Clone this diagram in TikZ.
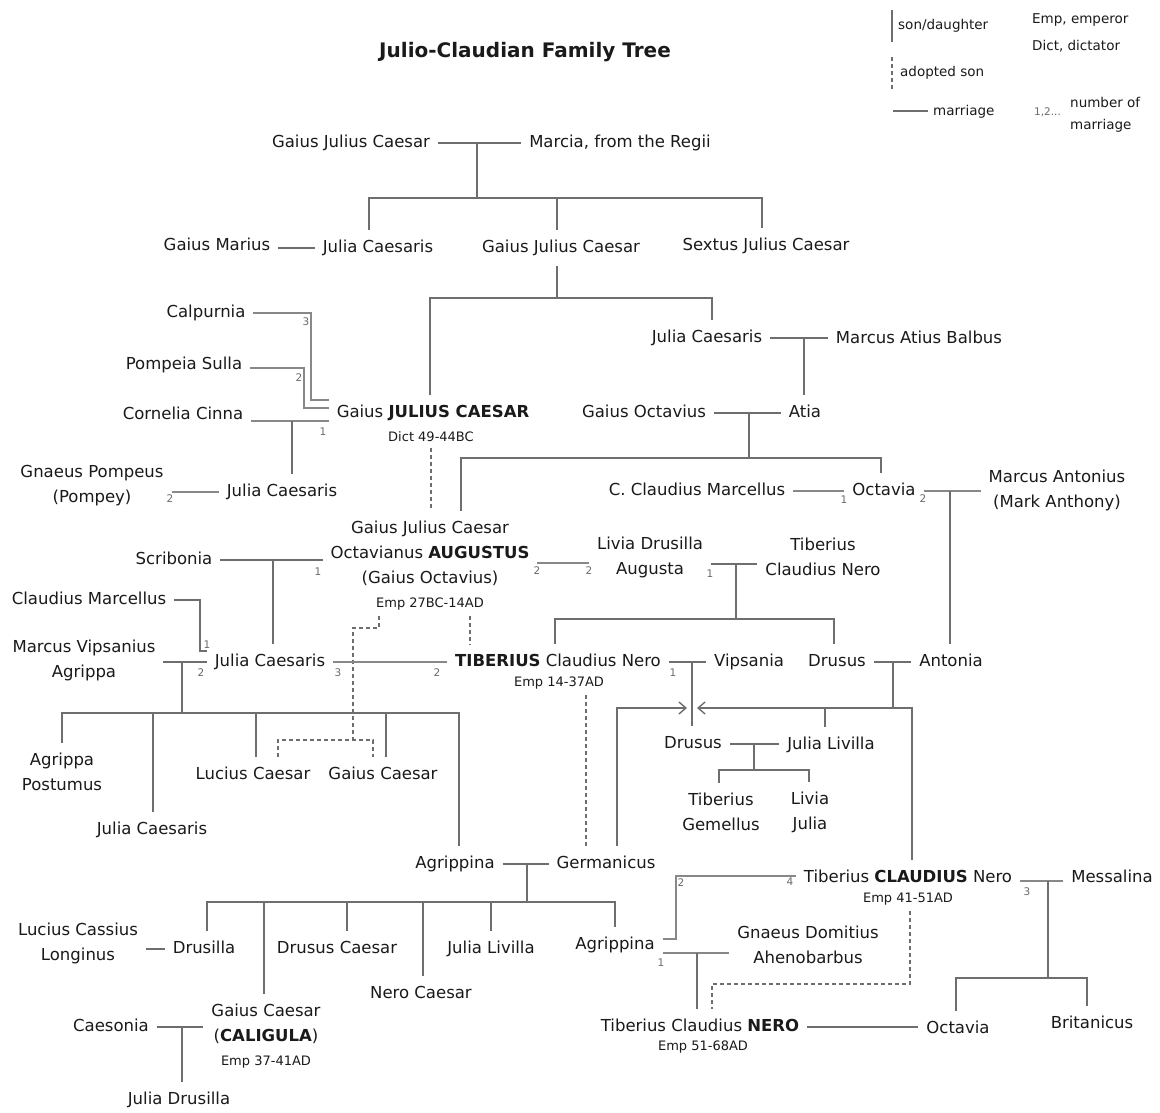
\documentclass[tikz,border=0pt]{standalone}
\usepackage{fontspec}
\setmainfont{DejaVu Sans}
\usetikzlibrary{arrows.meta}
\definecolor{txt}{HTML}{1A1A1A}
\definecolor{lin}{HTML}{6E6E6E}
\definecolor{mln}{HTML}{888888}
\definecolor{numc}{HTML}{6A6A6A}
\begin{document}
\begin{tikzpicture}[x=1pt,y=-1pt,
 nm/.style={font=\fontsize{16.5}{25}\selectfont, text=txt, inner sep=0pt, outer xsep=8pt, outer ysep=10pt, text height=12pt, text depth=3.5pt},
 nm2/.style={font=\fontsize{16.5}{25}\selectfont, text=txt, inner sep=0pt, outer xsep=8pt, outer ysep=10pt, align=center},
 sm/.style={font=\fontsize{13}{15}\selectfont, text=txt, inner sep=0pt, outer ysep=6pt},
 mnum/.style={font=\fontsize{10.5}{12}\selectfont, text=numc, inner sep=0pt},
 leg/.style={font=\fontsize{13.5}{22}\selectfont, text=txt, inner sep=0pt, anchor=west, align=left},
 kin/.style={draw=lin, line width=1.4pt},
 wed/.style={draw=mln, line width=2.4pt},
 adp/.style={draw=lin, line width=1.2pt, dash pattern=on 4pt off 3pt},
 chev/.style={-{Straight Barb[length=7pt,width=12pt]}},
]
\fill[white] (0,0) rectangle (1160,1113);
\useasboundingbox (0,0) rectangle (1160,1113);

% title
\node[font=\fontsize{20}{24}\selectfont\bfseries, text=txt] (title) at (525,52) {Julio-Claudian Family Tree};

% legend
\coordinate (lg1a) at (892,10); \coordinate (lg1b) at (892,42);
\draw[kin, line width=1.2pt] (lg1a) -- (lg1b);
\node[leg] (lgson) at (898,26) {son/daughter};
\coordinate (lg2a) at (892,57); \coordinate (lg2b) at (892,90);
\draw[adp] (lg2a) -- (lg2b);
\node[leg] (lgad) at (900,73) {adopted son};
\node[leg] (lgmar) at (933,112) {marriage};
\coordinate (lg3a) at (893,111);
\draw[kin, line width=1.2pt, shorten >=5pt] (lg3a) -- (lg3a -| lgmar.west);
\node[leg] (lgemp) at (1032,20) {Emp, emperor};
\node[leg] (lgdict) at (1032,46) {Dict, dictator};
\node[mnum, anchor=west] (lgnum) at (1034,112) {1,2...};
\node[leg] (lgnof) at (1070,115) {number of\\marriage};

% ---------- nodes ----------
\node[nm] (gjc0) at (351,143) {Gaius Julius Caesar};
\node[nm] (marcia) at (620,143) {Marcia, from the Regii};
\node[nm] (marius) at (217,246) {Gaius Marius};
\node[nm] (julia1) at (378,248) {Julia Caesaris};
\node[nm] (gjc1) at (561,248) {Gaius Julius Caesar};
\node[nm] (sextus) at (766,246) {Sextus Julius Caesar};
\node[nm] (julia2) at (707,338) {Julia Caesaris};
\node[nm] (balbus) at (919,339) {Marcus Atius Balbus};
\node[nm] (goct) at (644,413) {Gaius Octavius};
\node[nm] (atia) at (805,413) {Atia};
\node[nm] (calp) at (206,313) {Calpurnia};
\node[nm] (pomp) at (184,365) {Pompeia Sulla};
\node[nm] (corn) at (183,415) {Cornelia Cinna};
\node[nm] (caesar) at (433,413) {Gaius \textbf{JULIUS CAESAR}};
\node[sm] (caesarsub) at (431,437) {Dict 49-44BC};
\node[nm2] (pompey) at (92,486) {Gnaeus Pompeus\\(Pompey)};
\node[nm] (julia3) at (282,492) {Julia Caesaris};
\node[nm] (marcel) at (697,491) {C. Claudius Marcellus};
\node[nm] (octavia) at (884,491) {Octavia};
\node[nm2] (antony) at (1057,490) {Marcus Antonius\\(Mark Anthony)};
\node[nm2] (aug) at (430,553) {Gaius Julius Caesar\\Octavianus \textbf{AUGUSTUS}\\(Gaius Octavius)};
\node[sm] (augsub) at (430,604) {Emp 27BC-14AD};
\node[nm] (scrib) at (174,560) {Scribonia};
\node[nm2] (livia) at (650,557) {Livia Drusilla\\Augusta};
\node[nm2] (tcn) at (823,557) {Tiberius\\Claudius Nero};
\node[nm] (cmarc) at (89,600) {Claudius Marcellus};
\node[nm2] (agrippa) at (84,660) {Marcus Vipsanius\\Agrippa};
\node[nm] (julia4) at (270,662) {Julia Caesaris};
\node[nm] (tib) at (558,662) {\textbf{TIBERIUS} Claudius Nero};
\node[sm] (tibsub) at (559,683) {Emp 14-37AD};
\node[nm] (vips) at (749,662) {Vipsania};
\node[nm] (drusus1) at (837,662) {Drusus};
\node[nm] (antonia) at (951,662) {Antonia};
\node[nm2] (postumus) at (62,772) {Agrippa\\Postumus};
\node[nm] (julia5) at (152,830) {Julia Caesaris};
\node[nm] (lucius) at (253,775) {Lucius Caesar};
\node[nm] (gaius) at (383,775) {Gaius Caesar};
\node[nm] (drusus2) at (693,744) {Drusus};
\node[nm] (livilla1) at (831,745) {Julia Livilla};
\node[nm2] (gemellus) at (721,812) {Tiberius\\Gemellus};
\node[nm2] (liviaj) at (810,812) {Livia\\Julia};
\node[nm] (agr1) at (455,864) {Agrippina};
\node[nm] (germ) at (606,864) {Germanicus};
\node[nm2] (cassius) at (78,943) {Lucius Cassius\\Longinus};
\node[nm] (drusilla) at (204,949) {Drusilla};
\node[nm] (drcaes) at (337,949) {Drusus Caesar};
\node[nm] (nerocaes) at (421,994) {Nero Caesar};
\node[nm] (livilla2) at (491,949) {Julia Livilla};
\node[nm] (agr2) at (615,945) {Agrippina};
\node[nm] (claud) at (908,878) {Tiberius \textbf{CLAUDIUS} Nero};
\node[sm] (claudsub) at (908,899) {Emp 41-51AD};
\node[nm] (messa) at (1112,878) {Messalina};
\node[nm2] (ahen) at (808,945) {Gnaeus Domitius\\Ahenobarbus};
\node[nm2] (caligula) at (266,1024) {Gaius Caesar\\(\textbf{CALIGULA})};
\node[sm] (caligsub) at (266,1062) {Emp 37-41AD};
\node[nm] (caesonia) at (111,1027) {Caesonia};
\node[nm] (jdrus) at (179,1100) {Julia Drusilla};
\node[nm] (nero) at (700,1027) {Tiberius Claudius \textbf{NERO}};
\node[sm] (nerosub) at (703,1047) {Emp 51-68AD};
\node[nm] (octavia2) at (958,1029) {Octavia};
\node[nm] (brit) at (1092,1024) {Britanicus};

% ---------- marriage numbers ----------
\node[mnum] (n1) at (306,322) {3};
\node[mnum] (n2) at (299,378) {2};
\node[mnum] (n3) at (323,432) {1};
\node[mnum] (n4) at (170,499) {2};
\node[mnum] (n5) at (844,500) {1};
\node[mnum] (n6) at (923,499) {2};
\node[mnum] (n7) at (318,572) {1};
\node[mnum] (n8) at (537,571) {2};
\node[mnum] (n9) at (589,571) {2};
\node[mnum] (n10) at (710,574) {1};
\node[mnum] (n11) at (207,645) {1};
\node[mnum] (n12) at (201,673) {2};
\node[mnum] (n13) at (338,673) {3};
\node[mnum] (n14) at (437,673) {2};
\node[mnum] (n15) at (673,673) {1};
\node[mnum] (n16) at (681,883) {2};
\node[mnum] (n17) at (790,882) {4};
\node[mnum] (n18) at (661,963) {1};
\node[mnum] (n19) at (1027,892) {3};

% ---------- connectors ----------
% top generation
\draw[kin] (gjc0.east) -- (marcia.west);
\coordinate (f1) at (477,143); \coordinate (f1b) at (477,198);
\draw[kin] (f1) -- (f1b);
\coordinate (f1l) at (369,198); \coordinate (f1m) at (557,198); \coordinate (f1r) at (762,198);
\draw[kin] (julia1.north -| f1l) -- (f1l) -- (f1r) -- (f1r |- sextus.north);
\draw[kin] (f1m) -- (f1m |- gjc1.north);
\draw[kin] (julia1.west) -- (julia1.west -| marius.east);

% children of Gaius Julius Caesar
\coordinate (f2) at (557,298);
\draw[kin] (f2 |- gjc1.south) -- (f2);
\coordinate (f2l) at (430,298); \coordinate (f2r) at (712,298);
\draw[kin] (caesar.north -| f2l) -- (f2l) -- (f2r) -- (f2r |- julia2.north);

% Julia x Balbus
\draw[kin] (julia2.east) -- (julia2.east -| balbus.west);
\coordinate (f3) at (804,338);
\draw[kin] (f3) -- (f3 |- atia.north);

% Octavius x Atia
\draw[kin] (goct.east) -- (goct.east -| atia.west);
\coordinate (f4) at (749,413); \coordinate (f4b) at (749,458);
\draw[kin] (f4) -- (f4b);
\coordinate (f4l) at (461,458); \coordinate (f4r) at (881,458);
\draw[kin] (aug.north -| f4l) -- (f4l) -- (f4r) -- (f4r |- octavia.north);

% Caesar's marriages
\coordinate (c1) at (311,313); \coordinate (c2) at (311,400);
\draw[wed] (c1 -| calp.east) -- (c1) -- (c2) -- (c2 -| caesar.west);
\coordinate (p1) at (304,368); \coordinate (p2) at (304,408);
\draw[wed] (p1 -| pomp.east) -- (p1) -- (p2) -- (p2 -| caesar.west);
\coordinate (k1) at (292,421);
\draw[wed] (k1 -| corn.east) -- (k1 -| caesar.west);
\draw[kin] (k1) -- (k1 |- julia3.north);
\draw[wed] (julia3.west) -- (julia3.west -| pompey.east);
\draw[adp] (caesarsub.south) -- (caesarsub.south |- aug.north);

% Octavia
\draw[wed] (marcel.east) -- (marcel.east -| octavia.west);
\draw[wed] (octavia.east) -- (octavia.east -| antony.west);
\coordinate (f6) at (950,491);
\draw[kin] (f6) -- (f6 |- antonia.north);

% Augustus
\draw[kin] (scrib.east) -- (scrib.east -| aug.west);
\coordinate (f7) at (273,560);
\draw[kin] (f7) -- (f7 |- julia4.north);
\coordinate (al) at (560,563);
\draw[wed] (al -| aug.east) -- (al -| livia.west);
\coordinate (lt) at (736,564);
\draw[kin] (lt -| livia.east) -- (lt -| tcn.west);
\coordinate (f8) at (736,619);
\draw[kin] (lt) -- (f8);
\coordinate (f8l) at (555,619); \coordinate (f8r) at (834,619);
\draw[kin] (tib.north -| f8l) -- (f8l) -- (f8r) -- (f8r |- drusus1.north);
\coordinate (d2) at (470,620);
\draw[adp] (augsub.south -| d2) -- (d2 |- tib.north);
\coordinate (d4a) at (379,628); \coordinate (d4b) at (353,628); \coordinate (d4c) at (353,740);
\coordinate (d4l) at (278,740); \coordinate (d4r) at (373,740);
\draw[adp] (augsub.south -| d4a) -- (d4a) -- (d4b) -- (d4c);
\draw[adp] (lucius.north -| d4l) -- (d4l) -- (d4r) -- (d4r |- gaius.north);

% Julia's marriages
\coordinate (cm1) at (200,600); \coordinate (cm2) at (200,651);
\draw[kin] (cmarc.east) -- (cm1) -- (cm2) -- (cm2 -| julia4.west);
\coordinate (aj) at (182,662);
\draw[kin] (aj -| agrippa.east) -- (aj -| julia4.west);
\coordinate (aj2) at (182,713);
\draw[kin] (aj) -- (aj2);
\coordinate (b9a) at (62,713); \coordinate (b9b) at (153,713); \coordinate (b9c) at (256,713);
\coordinate (b9d) at (386,713); \coordinate (b9e) at (459,713);
\draw[kin] (postumus.north -| b9a) -- (b9a) -- (b9e) -- (b9e |- agr1.north);
\draw[kin] (b9b) -- (b9b |- julia5.north);
\draw[kin] (b9c) -- (b9c |- lucius.north);
\draw[kin] (b9d) -- (b9d |- gaius.north);
\coordinate (jt) at (380,662);
\draw[wed] (jt -| julia4.east) -- (jt -| tib.west);

% Tiberius
\draw[kin] (tib.east) -- (tib.east -| vips.west);
\coordinate (tv) at (692,662);
\draw[kin] (tv) -- (tv |- drusus2.north);
\coordinate (d3) at (586,700);
\draw[adp] (tibsub.south -| d3) -- (d3 |- germ.north);

% Drusus x Antonia
\draw[kin] (drusus1.east) -- (drusus1.east -| antonia.west);
\coordinate (da) at (893,662); \coordinate (da2) at (893,708);
\draw[kin] (da) -- (da2);
\coordinate (ar) at (912,708); \coordinate (ar2) at (697,708);
\draw[kin, chev] (claud.north -| ar) -- (ar) -- (ar2);
\coordinate (al1) at (617,708); \coordinate (al2) at (687,708);
\draw[kin, chev] (germ.north -| al1) -- (al1) -- (al2);
\coordinate (dl) at (825,708);
\draw[kin] (dl) -- (dl |- livilla1.north);

% Drusus x Julia Livilla
\draw[kin] (drusus2.east) -- (drusus2.east -| livilla1.west);
\coordinate (dd) at (754,744); \coordinate (dd2) at (754,770);
\draw[kin] (dd) -- (dd2);
\coordinate (ddl) at (719,770); \coordinate (ddr) at (809,770);
\draw[kin] (gemellus.north -| ddl) -- (ddl) -- (ddr) -- (ddr |- liviaj.north);

% Agrippina x Germanicus
\draw[kin] (agr1.east) -- (agr1.east -| germ.west);
\coordinate (ag) at (527,864); \coordinate (ag2) at (527,902);
\draw[kin] (ag) -- (ag2);
\coordinate (g1) at (207,902); \coordinate (g2) at (264,902); \coordinate (g3) at (347,902);
\coordinate (g4) at (423,902); \coordinate (g5) at (491,902); \coordinate (g6) at (615,902);
\draw[kin] (drusilla.north -| g1) -- (g1) -- (g6) -- (g6 |- agr2.north);
\draw[kin] (g2) -- (g2 |- caligula.north);
\draw[kin] (g3) -- (g3 |- drcaes.north);
\draw[kin] (g4) -- (g4 |- nerocaes.north);
\draw[kin] (g5) -- (g5 |- livilla2.north);

\draw[kin] (drusilla.west) -- (drusilla.west -| cassius.east);
\draw[kin] (caesonia.east) -- (caesonia.east -| caligula.west);
\coordinate (cc) at (182,1027);
\draw[kin] (cc) -- (cc |- jdrus.north);

% Agrippina the younger
\coordinate (ac1) at (676,939); \coordinate (ac2) at (676,876);
\draw[wed] (ac1 -| agr2.east) -- (ac1) -- (ac2) -- (ac2 -| claud.west);
\coordinate (aa) at (697,953);
\draw[wed] (aa -| agr2.east) -- (aa -| ahen.west);
\draw[kin] (aa) -- (aa |- nero.north);
\coordinate (cn1) at (910,984); \coordinate (cn2) at (712,984);
\draw[adp] (claudsub.south -| cn1) -- (cn1) -- (cn2) -- (cn2 |- nero.north);

% Claudius x Messalina
\coordinate (cmm) at (1048,881);
\draw[wed] (cmm -| claud.east) -- (cmm -| messa.west);
\coordinate (cmb) at (1048,978);
\draw[kin] (cmm) -- (cmb);
\coordinate (o1) at (956,978); \coordinate (o2) at (1087,978);
\draw[kin] (octavia2.north -| o1) -- (o1) -- (o2) -- (o2 |- brit.north);
\draw[kin] (nero.east) -- (nero.east -| octavia2.west);

\end{tikzpicture}
\end{document}
